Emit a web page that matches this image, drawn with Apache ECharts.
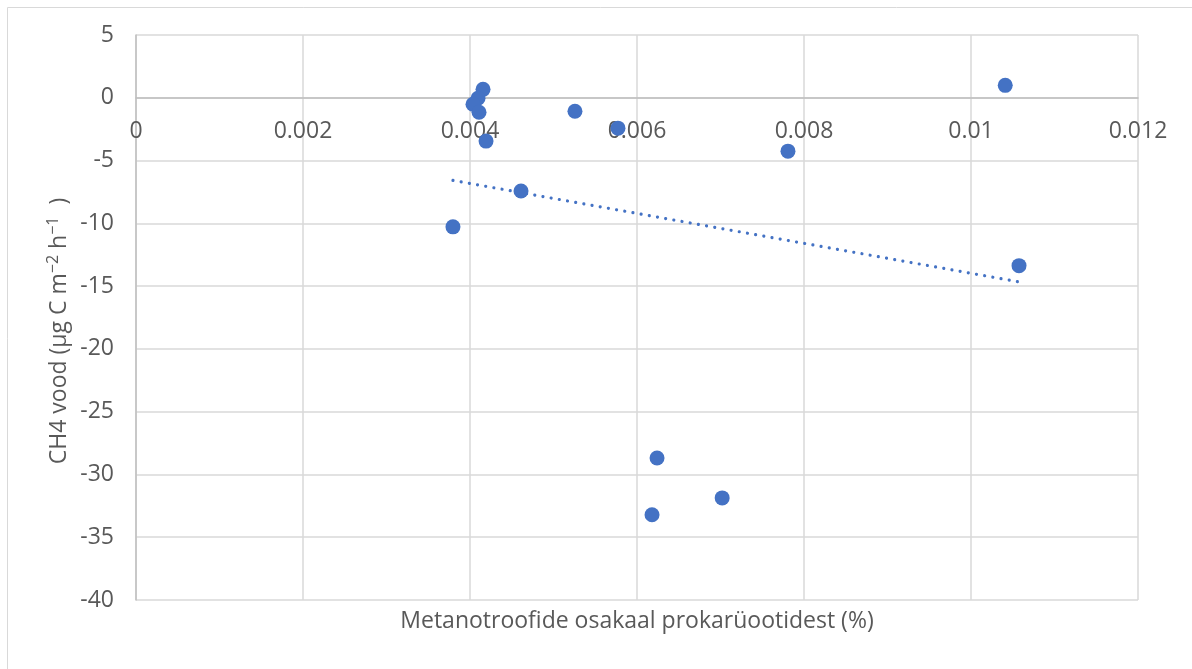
<!DOCTYPE html>
<html>
<head>
<meta charset="utf-8">
<script src="https://cdn.jsdelivr.net/npm/echarts@6/dist/echarts.min.js"></script>
<style>html,body{margin:0;padding:0;background:#fff}#c{width:1192px;height:669px}</style>
</head>
<body>
<div id="c"></div>
<script>
const xValues = [0.01041, 0.004156, 0.004096, 0.004036, 0.004108, 0.004192, 0.005257, 0.005772, 0.007808, 0.004611, 0.003796, 0.010575, 0.00624, 0.00618, 0.00702];
const yValues = [0.99, 0.67, -0.04, -0.52, -1.15, -3.45, -1.07, -2.42, -4.25, -7.42, -10.28, -13.37, -28.69, -33.21, -31.87];
const xTicks = [0, 0.002, 0.004, 0.006, 0.008, 0.01, 0.012];
const yTicks = [5, 0, -5, -10, -15, -20, -25, -30, -35, -40];
const xTitle = 'Metanotroofide osakaal prokarüootidest (%)';
const yTitleParts = ['CH4 vood (µg C m', '\u22122', ' h', '\u22121', '  )'];

const points = xValues.map((x, i) => [x, yValues[i]]);
// least-squares linear trendline (as Excel)
const n = xValues.length;
const mx = xValues.reduce((a, b) => a + b, 0) / n;
const my = yValues.reduce((a, b) => a + b, 0) / n;
let sxy = 0, sxx = 0;
for (let i = 0; i < n; i++) { sxy += (xValues[i] - mx) * (yValues[i] - my); sxx += (xValues[i] - mx) ** 2; }
const slope = sxy / sxx, icpt = my - slope * mx;
const xmin = Math.min(...xValues), xmax = Math.max(...xValues);
const trend = [[xmin, icpt + slope * xmin], [xmax, icpt + slope * xmax]];

const FONT = 'Open Sans';
const FS = 23;
const GRID = { left: 136, right: 54, top: 35, bottom: 69 };
const chart = echarts.init(document.getElementById('c'));
const yTitleRich = `{n|${yTitleParts[0]}}{s|${yTitleParts[1]}}{n|${yTitleParts[2]}}{s|${yTitleParts[3]}}{n|${yTitleParts[4]}}`;
chart.setOption({
  animation: false,
  grid: Object.assign({ containLabel: false }, GRID),
  xAxis: {
    type: 'value', min: xTicks[0], max: xTicks[xTicks.length - 1], interval: 0.002,
    axisLine: { show: true, onZero: false, lineStyle: { color: '#bfbfbf', width: 1.5 } },
    axisTick: { show: false },
    splitLine: { show: true, lineStyle: { color: '#d9d9d9', width: 1.5 } },
    axisLabel: { color: '#595959', fontFamily: FONT, fontSize: FS, margin: 22,
      formatter: v => String(+v.toFixed(3)) }
  },
  yAxis: {
    type: 'value', min: yTicks[yTicks.length - 1], max: yTicks[0], interval: 5,
    axisLine: { show: true, onZero: false, lineStyle: { color: '#bfbfbf', width: 1.5 } },
    axisTick: { show: false },
    splitLine: { show: true, lineStyle: { color: '#d9d9d9', width: 1.5 } },
    axisLabel: { color: '#595959', fontFamily: FONT, fontSize: FS, margin: 22 }
  },
  graphic: [
    { type: 'text', x: 637, y: 621, style: { text: xTitle, fill: '#595959', font: FS + 'px "Open Sans"', align: 'center', verticalAlign: 'middle' } },
    { type: 'text', x: 59, y: 331, rotation: Math.PI / 2,
      style: { text: yTitleRich, align: 'center', verticalAlign: 'middle',
        rich: {
          n: { fill: '#595959', fontFamily: FONT, fontSize: FS, lineHeight: 30 },
          s: { fill: '#595959', fontFamily: FONT, fontSize: 16, lineHeight: 30, padding: [0, 0, 12, 0] }
        } } },
    { type: 'rect', shape: { x: 7.5, y: 7.5, width: 1300, height: 800 }, style: { fill: null, stroke: '#d9d9d9', lineWidth: 1 }, silent: true, z: -1 }
  ],
  series: [
    {
      type: 'line', data: trend, symbol: 'none', silent: true,
      lineStyle: { color: '#4472C4', width: 3.2, type: [0.01, 8.3], cap: 'round' }, z: 2
    },
    {
      type: 'scatter', data: points, symbol: 'circle', symbolSize: 15,
      itemStyle: { color: '#4472C4', opacity: 1 }, z: 3
    }
  ]
});
// place the horizontal axis (line + labels) where y = 0, as in the original
const zeroPx = chart.convertToPixel({ yAxisIndex: 0 }, 0);
const bottomPx = chart.getHeight() - GRID.bottom;
chart.setOption({ xAxis: { offset: zeroPx - bottomPx } });
</script>
</body>
</html>
